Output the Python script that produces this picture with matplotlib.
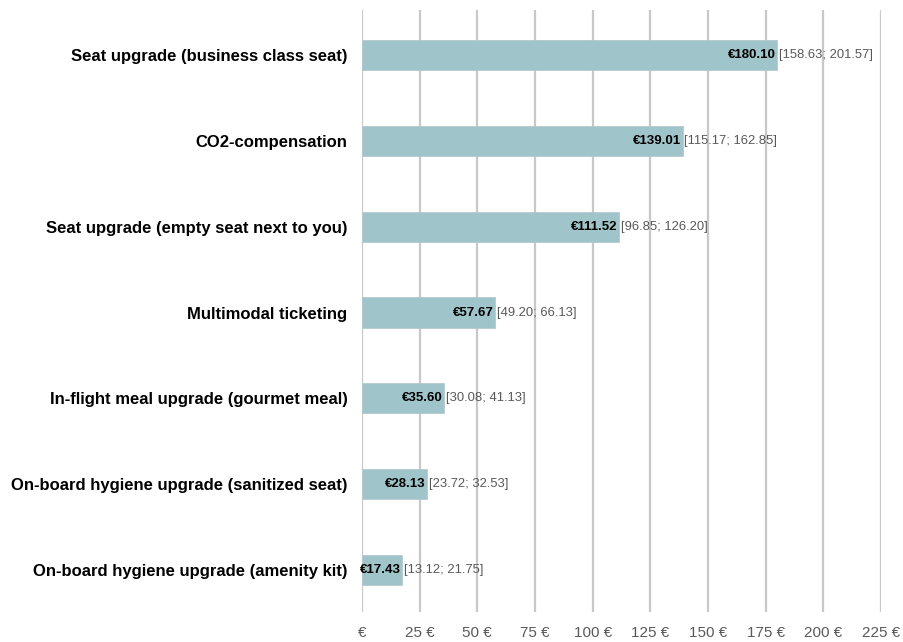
import matplotlib
matplotlib.use("Agg")
import matplotlib.pyplot as plt
from matplotlib.ticker import FuncFormatter

categories = [
    "Seat upgrade (business class seat)",
    "CO2-compensation",
    "Seat upgrade (empty seat next to you)",
    "Multimodal ticketing",
    "In-flight meal upgrade (gourmet meal)",
    "On-board hygiene upgrade (sanitized seat)",
    "On-board hygiene upgrade (amenity kit)",
]
values = [180.10, 139.01, 111.52, 57.67, 35.60, 28.13, 17.43]
ci_low = [158.63, 115.17, 96.85, 49.20, 30.08, 23.72, 13.12]
ci_high = [201.57, 162.85, 126.20, 66.13, 41.13, 32.53, 21.75]
xticks = [0, 25, 50, 75, 100, 125, 150, 175, 200, 225]

plt.rcParams['font.family'] = ['Liberation Sans', 'DejaVu Sans']

fig = plt.figure(figsize=(9.04, 6.42), dpi=100)
ax = fig.add_axes([362/904, 1 - 612/642, (881-362)/904, (612-10)/642])

y = list(range(len(categories)))[::-1]
ax.barh(y, values, height=0.35, color="#9fc4c9", edgecolor="#b5c9cc", linewidth=0.6, zorder=3)

for yi, v, lo, hi in zip(y, values, ci_low, ci_high):
    ax.text(v - 0.6, yi, f"€{v:.2f}", ha="right", va="center", fontsize=9.5,
            fontweight="bold", color="#000000", zorder=4)
    ax.text(v + 0.8, yi, f"[{lo:.2f}; {hi:.2f}]", ha="left", va="center", fontsize=9.4,
            color="#595959", zorder=4)

ax.set_xlim(0, 225)
ax.set_ylim(-0.488, 6.523)
ax.set_xticks(xticks)
ax.xaxis.set_major_formatter(FuncFormatter(lambda v, p: "€" if v == 0 else f"{int(v)} €"))
ax.set_yticks(y)
ax.set_yticklabels(categories, fontsize=12, fontweight="bold", color="#000000")
ax.tick_params(axis="y", length=0, pad=10.5)
ax.tick_params(axis="x", length=0, pad=10, labelsize=11, labelcolor="#595959")
ax.grid(axis="x", color="#c8c8c8", linewidth=1.6, zorder=0)
ax.set_axisbelow(True)
for s in ax.spines.values():
    s.set_visible(False)

fig.savefig("out.png", dpi=100, facecolor="white")
